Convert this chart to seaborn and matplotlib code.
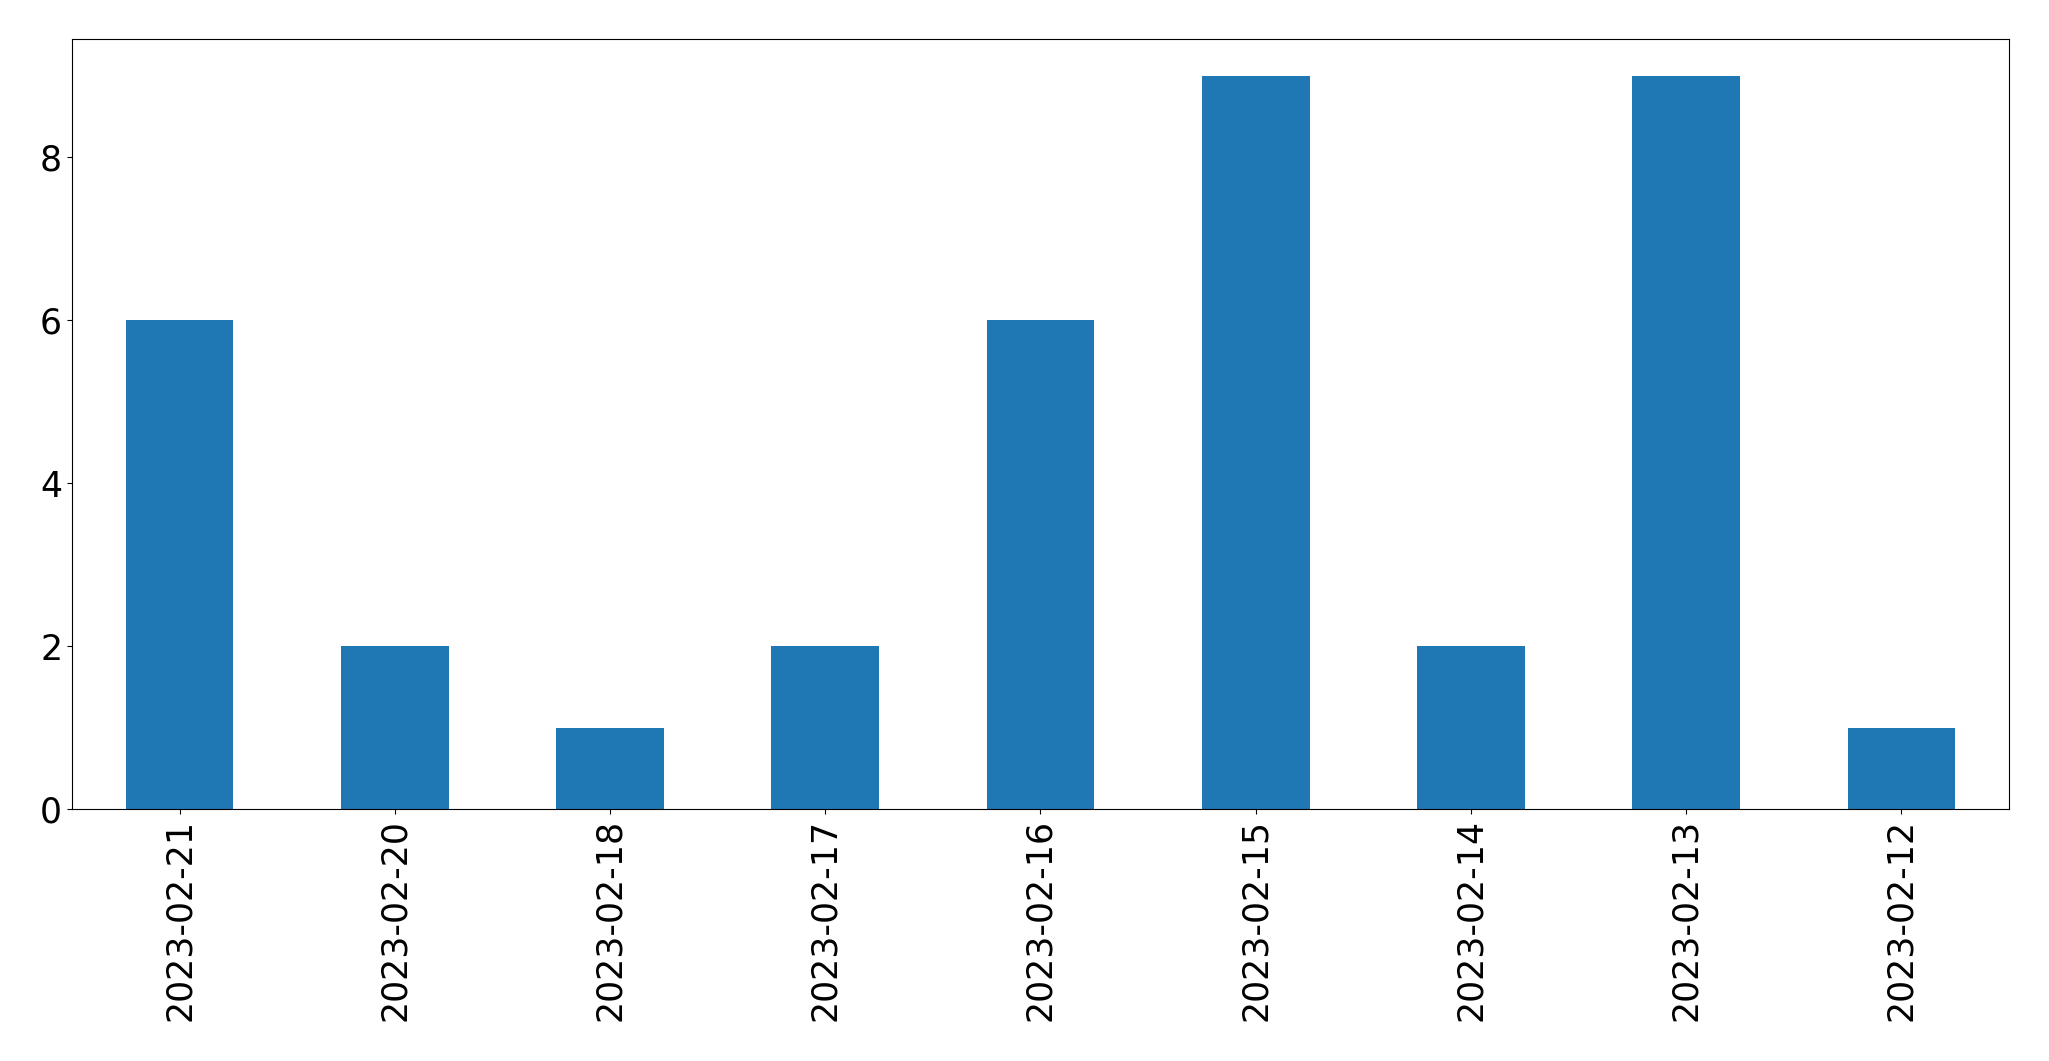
import matplotlib
matplotlib.use("Agg")
import matplotlib.pyplot as plt
import seaborn as sns
import pandas as pd

dates = ["2023-02-21", "2023-02-20", "2023-02-18", "2023-02-17", "2023-02-16",
         "2023-02-15", "2023-02-14", "2023-02-13", "2023-02-12"]
counts = [6, 2, 1, 2, 6, 9, 2, 9, 1]

df = pd.DataFrame({"date": dates, "count": counts})

fig = plt.figure(figsize=(20.49, 10.61), dpi=100)
ax = fig.add_axes([0.0351, 0.2375, 0.9454, 0.7257])

sns.barplot(data=df, x="date", y="count", order=dates, color="#1f77b4",
            saturation=1, width=0.5, ax=ax)

ax.set_xlabel("")
ax.set_ylabel("")
ax.set_yticks([0, 2, 4, 6, 8])
ax.tick_params(axis="both", labelsize=25)
ax.tick_params(axis="x", labelrotation=90)

fig.savefig("out.png", dpi=100)
